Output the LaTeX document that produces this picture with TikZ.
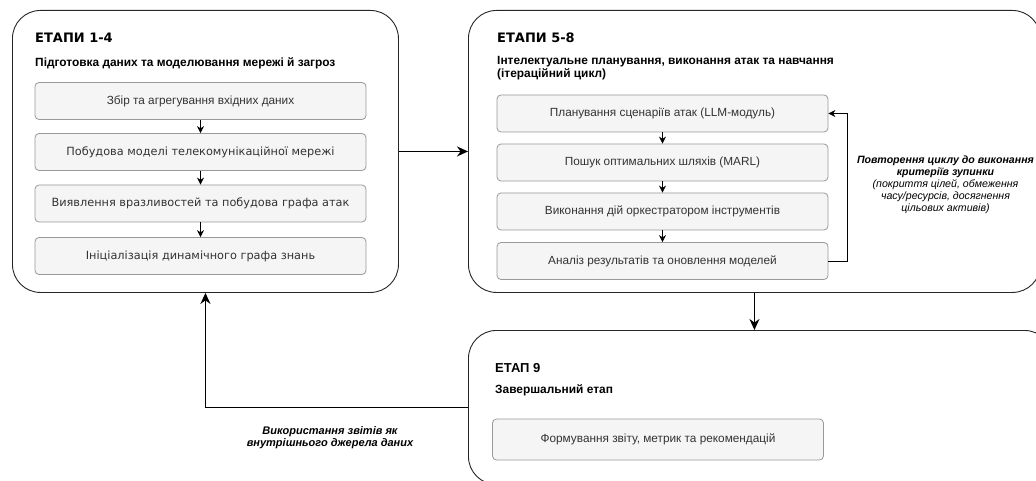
\documentclass[tikz,border=0pt]{standalone}
\usepackage{fontspec}
\setmainfont{Liberation Sans}
\newfontfamily\verd{DejaVu Sans}
\usetikzlibrary{arrows.meta}

\definecolor{boxfill}{HTML}{F5F5F5}
\definecolor{boxline}{HTML}{999999}
\definecolor{txt}{HTML}{333333}

\tikzset{
  stage/.style={draw=black!85, line width=0.9pt, rounded corners=28pt, fill=white,
    inner sep=0pt, anchor=north west},
  task/.style={draw=boxline, line width=0.8pt, rounded corners=4pt, fill=boxfill,
    minimum width=331pt, minimum height=37pt, inner sep=0pt, text=txt,
    font=\fontsize{11.8}{13}\selectfont},
  vtask/.style={task, font=\verd\fontsize{11.3}{13}\selectfont},
  stagetitle/.style={anchor=west, inner sep=0pt, font=\verd\bfseries\fontsize{13}{15}\selectfont},
  stagesub/.style={anchor=west, inner sep=0pt, align=left, font=\bfseries\fontsize{11.9}{13}\selectfont},
  thinarrow/.style={draw=black, line width=0.8pt, -{Stealth[length=7pt,width=7pt]}},
  bigarrow/.style={draw=black, line width=1.8pt, -{Stealth[length=11pt,width=10pt]}},
  note/.style={align=center, inner sep=0pt, font=\itshape\fontsize{10.6}{12}\selectfont}
}

\begin{document}
\begin{tikzpicture}[x=1pt, y=-1pt]
\useasboundingbox (0,0) rectangle (1036,481);
\clip (0,0) rectangle (1036,481);

% three stage frames
\node (s1) [stage, minimum width=386pt, minimum height=282pt] at (12,10) {};
\node (s2) [stage, minimum width=572pt, minimum height=282pt] at (468,10) {};
\node (s3) [stage, minimum width=584pt, minimum height=154pt] at (468,330) {};

% stages 1-4
\node (t1) [stagetitle] at (35,38) {ЕТАПИ 1-4};
\node (d1) [stagesub] at (35,63) {Підготовка даних та моделювання мережі й загроз};
\node (a1) [task]  at (200.5,101) {Збір та агрегування вхідних даних};
\node (a2) [vtask] at (200.5,152) {Побудова моделі телекомунікаційної мережі};
\node (a3) [vtask] at (200.5,203.5) {Виявлення вразливостей та побудова графа атак};
\node (a4) [vtask] at (200.5,256) {Ініціалізація динамічного графа знань};
\draw[thinarrow] (a1) -- (a2);
\draw[thinarrow] (a2) -- (a3);
\draw[thinarrow] (a3) -- (a4);

% stages 5-8
\node (t2) [stagetitle] at (497,38) {ЕТАПИ 5-8};
\node (d2) [stagesub] at (497,68.5) {Інтелектуальне планування, виконання атак та навчання\\(ітераційний цикл)};
\node (b1) [task] at (662.5,113.5) {Планування сценаріїв атак (LLM-модуль)};
\node (b2) [task] at (662.5,162.5) {Пошук оптимальних шляхів (MARL)};
\node (b3) [task] at (662.5,211.5) {Виконання дій оркестратором інструментів};
\node (b4) [task] at (662.5,261) {Аналіз результатів та оновлення моделей};
\draw[thinarrow] (b1) -- (b2);
\draw[thinarrow] (b2) -- (b3);
\draw[thinarrow] (b3) -- (b4);
\draw[thinarrow] (b4.east) -- ++(19,0) |- (b1.east);
\node (loopnote) [note] at (945.5,185)
  {\bfseries Повторення циклу до виконання\\\bfseries критеріїв зупинки\\(покриття цілей, обмеження\\часу/ресурсів, досягнення\\цільових активів)};

% stage 9
\node (t3) [stagetitle, font=\bfseries\fontsize{13}{15}\selectfont] at (495,368) {ЕТАП 9};
\node (d3) [stagesub] at (495,390) {Завершальний етап};
\node (c1) [task, minimum height=41pt] at (658,439.5) {Формування звіту, метрик та рекомендацій};

% flow between stages
\draw[bigarrow] (s1.east) -- (s2.west |- s1.east);
\draw[bigarrow] (s2.south) -- (s2.south |- s3.north);
\draw[bigarrow] (s3.west) -| (s1.south);
\node (fbnote) [note, font=\bfseries\itshape\fontsize{11}{12}\selectfont] at (330,438)
  {Використання звітів як\\внутрішнього джерела даних};
\end{tikzpicture}
\end{document}
